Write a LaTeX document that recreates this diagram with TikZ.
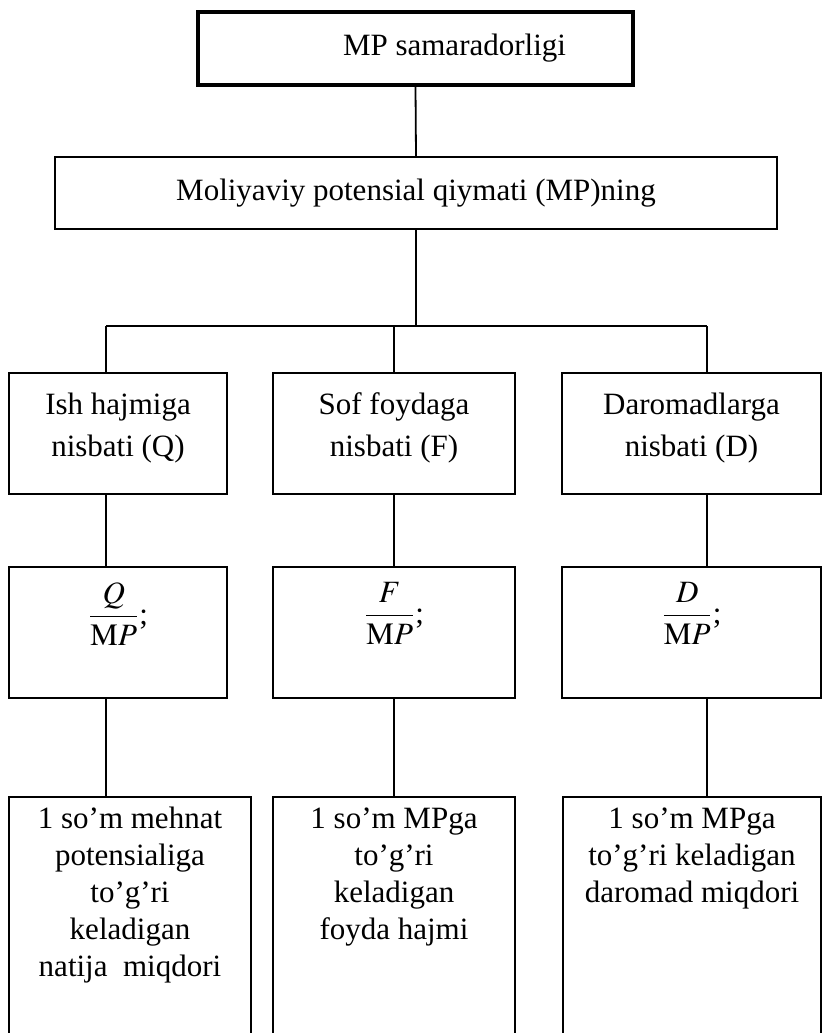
\documentclass[tikz,border=0pt]{standalone}
\usepackage{amsmath}
\usepackage{mathptmx}
\usepackage{fontspec}
\setmainfont{Liberation Serif}
\usepackage{tikz}
\usetikzlibrary{positioning}

\begin{document}
\begin{tikzpicture}[
    x=0.5pt, y=-0.5pt,
    Tbox/.style={draw, line width=2pt, minimum width=217.5pt, minimum height=36.5pt, inner sep=0pt, font=\fontsize{15.5}{18.5}\selectfont},
    Mbox/.style={draw, line width=0.9pt, minimum width=361pt, minimum height=36pt, inner sep=0pt, font=\fontsize{15.5}{18.5}\selectfont},
    Nbox/.style={draw, line width=0.9pt, minimum height=60.5pt, inner sep=0pt},
    Fbox/.style={draw, line width=0.9pt, minimum height=65.5pt, inner sep=0pt},
    Xbox/.style={draw, line width=0.9pt, minimum height=125pt, inner sep=0pt, anchor=north},
    txt/.style={font=\fontsize{15.5}{18.5}\selectfont, align=center, inner sep=0pt, anchor=north},
    Nlbl/.style={txt, font=\fontsize{15.5}{21}\selectfont},
    ln/.style={line width=0.9pt},
]
\useasboundingbox (0,0) rectangle (824,1033);
\clip (0,0) rectangle (824,1033);

% top of the tree
\node[Tbox] (top) at (415.5,48.5) {\hspace*{39pt}MP samaradorligi};
\node[Mbox] (mp) at (416,193) {Moliyaviy potensial qiymati (MP)ning};

% three ratios
\node[Nbox, minimum width=109pt] (n1) at (118,433.5) {};
\node[Nbox, minimum width=121pt] (n2) at (394,433.5) {};
\node[Nbox, minimum width=129.5pt] (n3) at (691.5,433.5) {};
\node[Nlbl] (n1t) at ([yshift=-10pt]n1.north) {Ish hajmiga\\nisbati (Q)};
\node[Nlbl] (n2t) at ([yshift=-10pt]n2.north) {Sof foydaga\\nisbati (F)};
\node[Nlbl] (n3t) at ([yshift=-10pt]n3.north) {Daromadlarga\\nisbati (D)};

% formulas
\node[Fbox, minimum width=109pt] (f1) at (118,632.5) {};
\node[Fbox, minimum width=121pt] (f2) at (394,632.5) {};
\node[Fbox, minimum width=129.5pt] (f3) at (691.5,632.5) {};
\node[txt] (f1t) at ([yshift=-8pt]f1.north) {$\dfrac{Q}{\mathrm{M}P}$;};
\node[txt] (f2t) at ([yshift=-8pt]f2.north) {$\dfrac{F}{\mathrm{M}P}$;};
\node[txt] (f3t) at ([yshift=-8pt]f3.north) {$\dfrac{D}{\mathrm{M}P}$;};

% meaning of each ratio
\node[Xbox, minimum width=121pt] (x1) at (130,796) {};
\node[Xbox, minimum width=121pt] (x2) at (394,796) {};
\node[Xbox, minimum width=129pt] (x3) at (692,796) {};
\node[txt] (x1t) at ([yshift=-5.5pt]x1.north) {1 so’m mehnat\\potensialiga\\to’g’ri\\keladigan\\natija\ \ miqdori};
\node[txt] (x2t) at ([yshift=-5.5pt]x2.north) {1 so’m MPga\\to’g’ri\\keladigan\\foyda hajmi};
\node[txt] (x3t) at ([yshift=-5.5pt]x3.north) {1 so’m MPga\\to’g’ri keladigan\\daromad miqdori};

% connectors
\coordinate (c1) at (106,326);
\coordinate (c2) at (394,326);
\coordinate (c3) at (707,326);
\draw[ln] (top.south) -- (mp.north);
\draw[ln] (mp.south) -- (mp.south |- c2);
\draw[ln] (c1) -- (c3);
\foreach \i in {1,2,3} {
    \draw[ln] (c\i) -- (c\i |- n\i.north);
    \draw[ln] (n\i.south -| c\i) -- (f\i.north -| c\i);
    \draw[ln] (f\i.south -| c\i) -- (x\i.north -| c\i);
}
\end{tikzpicture}
\end{document}
